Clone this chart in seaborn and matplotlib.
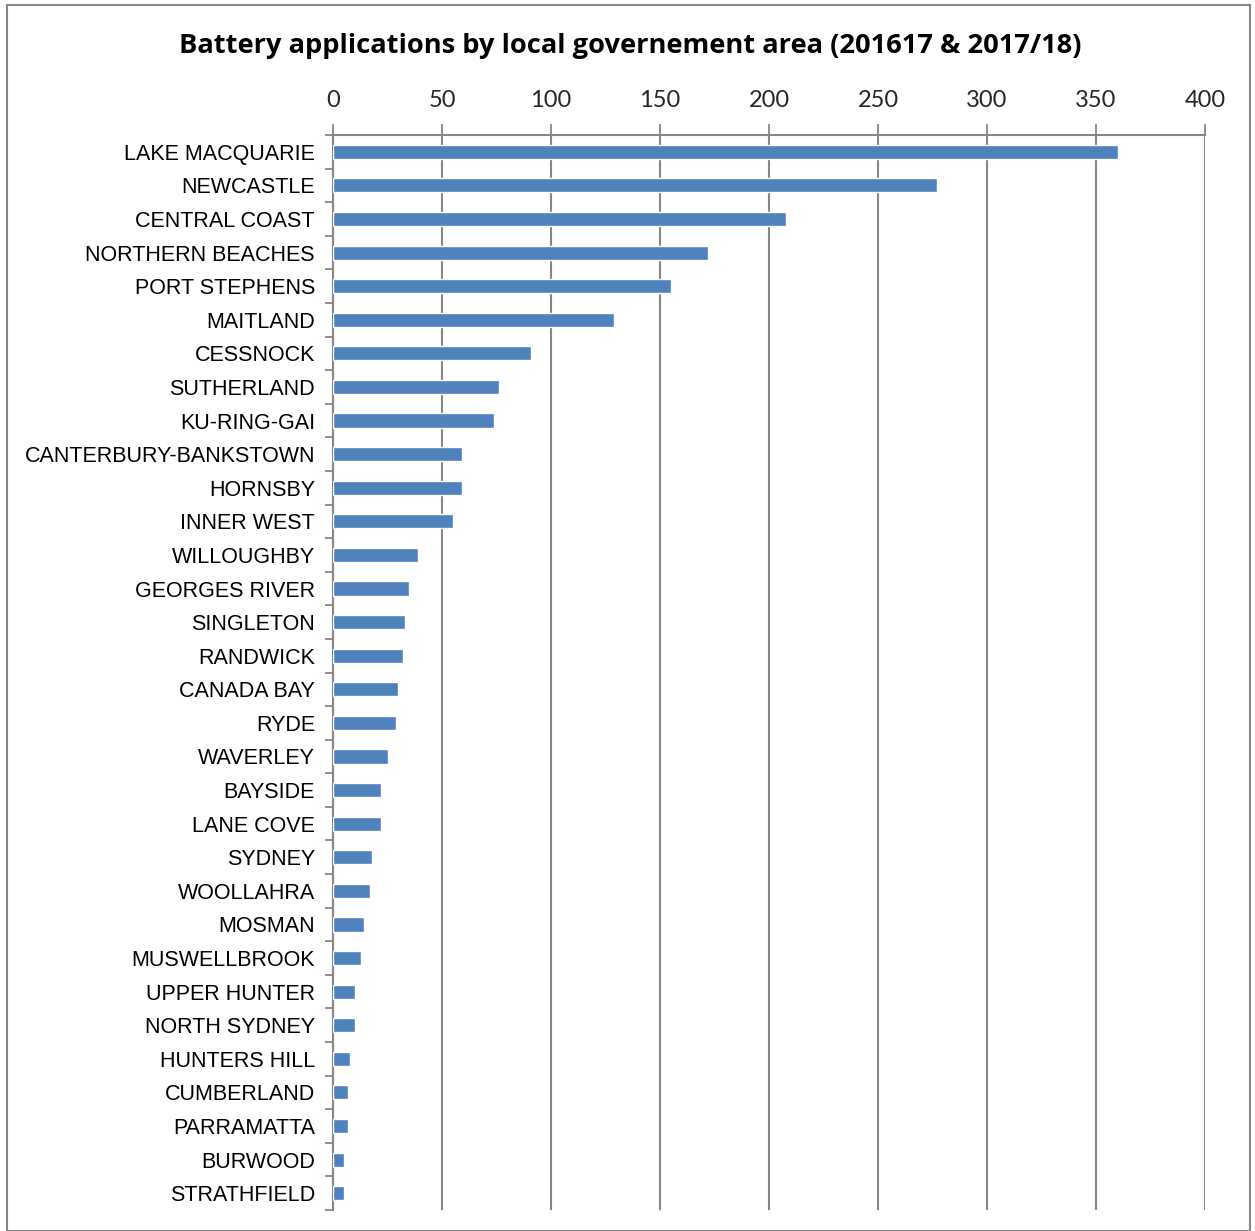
import matplotlib
matplotlib.use("Agg")
import matplotlib.pyplot as plt
import matplotlib.patches as mpatches
import seaborn as sns
import pandas as pd
import numpy as np

# Dados
areas = ["LAKE MACQUARIE", "NEWCASTLE", "CENTRAL COAST", "NORTHERN BEACHES", "PORT STEPHENS",
         "MAITLAND", "CESSNOCK", "SUTHERLAND", "KU-RING-GAI", "CANTERBURY-BANKSTOWN",
         "HORNSBY", "INNER WEST", "WILLOUGHBY", "GEORGES RIVER", "SINGLETON",
         "RANDWICK", "CANADA BAY", "RYDE", "WAVERLEY", "BAYSIDE",
         "LANE COVE", "SYDNEY", "WOOLLAHRA", "MOSMAN", "MUSWELLBROOK",
         "UPPER HUNTER", "NORTH SYDNEY", "HUNTERS HILL", "CUMBERLAND", "PARRAMATTA",
         "BURWOOD", "STRATHFIELD"]
aplicacoes = [360, 277, 208, 172, 155,
              129, 91, 76, 74, 59,
              59, 55, 39, 35, 33,
              32, 30, 29, 25, 22,
              22, 18, 17, 14, 13,
              10, 10, 8, 7, 7,
              5, 5]
ticks_x = [0, 50, 100, 150, 200, 250, 300, 350, 400]

df = pd.DataFrame({"area": areas, "n": aplicacoes})

sns.set_theme(style="white")
plt.rcParams["font.family"] = ["Liberation Sans", "DejaVu Sans"]

W, H = 1255, 1231
fig = plt.figure(figsize=(W / 100, H / 100), dpi=100)
ax = fig.add_axes([333 / W, 1 - 1210 / H, (1205 - 333) / W, (1210 - 135) / H])

cinza = "#868686"

sns.barplot(data=df, x="n", y="area", orient="h", color="#4F81BD", saturation=1,
            width=0.42, ax=ax, zorder=3)

ax.set_xlim(0, 400)
ax.set_ylim(len(areas) - 0.5, -0.5)
ax.set_xticks(ticks_x)
ax.xaxis.tick_top()
ax.tick_params(axis="x", which="major", direction="out", length=8, width=1.3, color=cinza,
               labelsize=17, pad=9)
for lbl in ax.get_xticklabels():
    lbl.set_fontfamily(["Lato", "DejaVu Sans"])
ax.grid(axis="x", color=cinza, linewidth=1.5, zorder=0)
ax.set_axisbelow(True)

ax.set_yticks(np.arange(len(areas)))
ax.set_yticklabels(areas)
ax.set_yticks(np.arange(-0.5, len(areas), 1.0), minor=True)
ax.tick_params(axis="y", which="major", length=0, labelsize=15.5, pad=13, labelcolor="black")
ax.tick_params(axis="y", which="minor", direction="out", length=6, width=1.3, color=cinza, left=True)

for s in ["right", "bottom"]:
    ax.spines[s].set_visible(False)
for s in ["top", "left"]:
    ax.spines[s].set_color(cinza)
    ax.spines[s].set_linewidth(1.5)

ax.set_xlabel("")
ax.set_ylabel("")

fig.text(630 / W, 1 - 46 / H, "Battery applications by local governement area (201617 & 2017/18)",
         ha="center", va="center", fontsize=19.6, fontweight="bold", color="black",
         family=["Open Sans", "DejaVu Sans"])

# Moldura externa
fig.add_artist(mpatches.Rectangle((7 / W, 0), (1250 - 7) / W, 1 - 5 / H, transform=fig.transFigure,
                                  fill=False, edgecolor=cinza, linewidth=1.5))

fig.savefig("out.png", dpi=100)
